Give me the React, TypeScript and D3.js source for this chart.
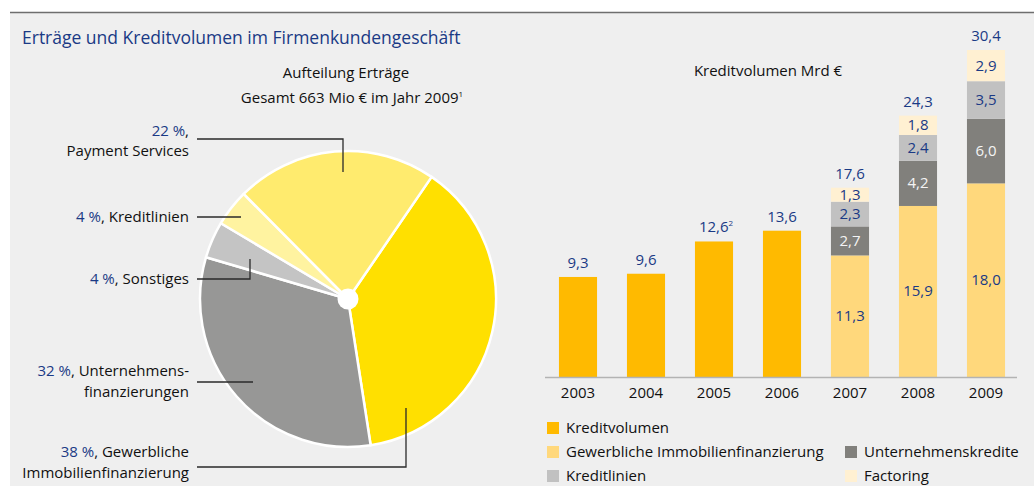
import React from "react";
import * as d3 from "d3";

const pieLabels = ["Gewerbliche Immobilienfinanzierung", "Unternehmensfinanzierungen", "Sonstiges", "Kreditlinien", "Payment Services"];
const pieValues = [38, 32, 4, 4, 22];
const pieColors = ["#ffe000", "#979796", "#c4c4c4", "#fff3a0", "#ffeb6e"];

const years = ["2003", "2004", "2005", "2006", "2007", "2008", "2009"];
const kreditvolumen = [9.3, 9.6, 12.6, 13.6, 0, 0, 0];
const gewerbliche = [0, 0, 0, 0, 11.3, 15.9, 18.0];
const unternehmenskredite = [0, 0, 0, 0, 2.7, 4.2, 6.0];
const kreditlinien = [0, 0, 0, 0, 2.3, 2.4, 3.5];
const factoring = [0, 0, 0, 0, 1.3, 1.8, 2.9];
const totals = [9.3, 9.6, 12.6, 13.6, 17.6, 24.3, 30.4];
const totalNotes = ["", "", "2", "", "", "", ""];

const seriesKeys = ["kreditvolumen", "gewerbliche", "unternehmenskredite", "kreditlinien", "factoring"];
const seriesNames = ["Kreditvolumen", "Gewerbliche Immobilienfinanzierung", "Unternehmenskredite", "Kreditlinien", "Factoring"];
const seriesColors = ["#ffba00", "#ffd87c", "#81807c", "#c1c1c1", "#fff0d2"];
const seriesLabelColors = ["#1a3a85", "#1a3a85", "#f4f4f4", "#1a3a85", "#1a3a85"];

const BLUE = "#1a3a85";
const FONT = "'Open Sans', 'Noto Sans', sans-serif";

const fmt = (v: number) => v.toFixed(1).replace(".", ",");

export default function App() {
  const W = 1034, H = 486;
  const cx = 348, cy = 299, R = 148;
  const start = (34.4 * Math.PI) / 180;
  const pie = d3.pie<number>().sort(null).startAngle(start).endAngle(start + 2 * Math.PI);
  const arcs = pie(pieValues);
  const arcGen = d3.arc<d3.PieArcDatum<number>>().innerRadius(0).outerRadius(R);

  const x = d3.scaleBand<string>().domain(years).range([544, 1020]).paddingInner(0.44).paddingOuter(0.22);
  const y = d3.scaleLinear().domain([0, 30.4]).range([377, 50]);

  const rows = years.map((yr, i) => ({
    year: yr,
    kreditvolumen: kreditvolumen[i],
    gewerbliche: gewerbliche[i],
    unternehmenskredite: unternehmenskredite[i],
    kreditlinien: kreditlinien[i],
    factoring: factoring[i],
  }));
  const stack = d3.stack<any>().keys(seriesKeys)(rows);

  const fs = 15;
  const labelX = 189;

  return (
    <svg width={W} height={H} style={{ display: "block", position: "absolute", left: 0, top: 0 }} fontFamily={FONT}>
      <rect x={10} y={12} width={W - 10} height={H - 12} fill="#efefef" />
      <line x1={10} x2={W} y1={12.5} y2={12.5} stroke="#6e6e6e" strokeWidth={1.5} />
      <text x={22} y={44} fontSize={17.5} fill={BLUE}>Erträge und Kreditvolumen im Firmenkundengeschäft</text>

      <text x={346} y={78} fontSize={fs} fill="#111" textAnchor="middle">Aufteilung Erträge</text>
      <text x={352} y={103} fontSize={fs} fill="#111" textAnchor="middle">
        Gesamt 663 Mio € im Jahr 2009<tspan fontSize={8} dy={-6}>1</tspan>
      </text>

      <g transform={`translate(${cx},${cy})`}>
        {arcs.map((a, i) => (
          <path key={i} d={arcGen(a) || ""} fill={pieColors[i]} stroke="#ffffff" strokeWidth={2.5} strokeLinejoin="round" />
        ))}
        <circle r={10.5} fill="#ffffff" />
      </g>

      <g fill="none" stroke="#2a2a2a" strokeWidth={1.3}>
        <polyline points="197,139 343,139 343,172" />
        <polyline points="197,217 241,217" />
        <polyline points="197,279 250,279 250,259" />
        <polyline points="197,382 253,382" />
        <polyline points="197,467 406,467 406,408" />
      </g>

      <g fontSize={fs} textAnchor="end" fill="#111">
        <text x={labelX} y={136}><tspan fill={BLUE}>{pieValues[4]} %</tspan>,</text>
        <text x={labelX} y={156}>Payment Services</text>
        <text x={labelX} y={222}><tspan fill={BLUE}>{pieValues[3]} %</tspan>, Kreditlinien</text>
        <text x={labelX} y={284}><tspan fill={BLUE}>{pieValues[2]} %</tspan>, Sonstiges</text>
        <text x={labelX} y={376}><tspan fill={BLUE}>{pieValues[1]} %</tspan>, Unternehmens-</text>
        <text x={labelX} y={397}>finanzierungen</text>
        <text x={labelX} y={457}><tspan fill={BLUE}>{pieValues[0]} %</tspan>, Gewerbliche</text>
        <text x={labelX} y={478}>Immobilienfinanzierung</text>
      </g>

      <text x={768} y={76} fontSize={fs} fill="#111" textAnchor="middle">Kreditvolumen Mrd €</text>

      {stack.map((s, si) => (
        <g key={si}>
          {s.map((d, i) => {
            const h = y(d[0]) - y(d[1]);
            if (h <= 0) return null;
            return (
              <rect key={i} x={x(years[i])} y={y(d[1])} width={x.bandwidth()} height={h} fill={seriesColors[si]} />
            );
          })}
        </g>
      ))}
      {stack.map((s, si) =>
        si === 0 ? null : (
          <g key={"l" + si} fontSize={fs} textAnchor="middle" fill={seriesLabelColors[si]}>
            {s.map((d, i) => {
              const v = d[1] - d[0];
              if (v <= 0) return null;
              const ym = (y(d[0]) + y(d[1])) / 2;
              return (
                <text key={i} x={(x(years[i]) || 0) + x.bandwidth() / 2} y={ym + 5}>{fmt(v)}</text>
              );
            })}
          </g>
        )
      )}
      <g fontSize={fs} textAnchor="middle" fill={BLUE}>
        {totals.map((t, i) => (
          <text key={i} x={(x(years[i]) || 0) + x.bandwidth() / 2 + (totalNotes[i] ? 2 : 0)} y={y(t) - 9}>
            {fmt(t)}
            {totalNotes[i] ? <tspan fontSize={8} dy={-6}>{totalNotes[i]}</tspan> : null}
          </text>
        ))}
      </g>

      <line x1={545} x2={1017} y1={y(0) + 0.5} y2={y(0) + 0.5} stroke="#b3b3b3" strokeWidth={1.5} />
      <g fontSize={fs} textAnchor="middle" fill="#111">
        {years.map((yr) => (
          <text key={yr} x={(x(yr) || 0) + x.bandwidth() / 2} y={398}>{yr}</text>
        ))}
      </g>

      <g fontSize={fs} fill="#111">
        {[
          { i: 0, lx: 547, ly: 433 },
          { i: 1, lx: 547, ly: 457 },
          { i: 3, lx: 547, ly: 481 },
          { i: 2, lx: 845, ly: 457 },
          { i: 4, lx: 845, ly: 481 },
        ].map(({ i, lx, ly }) => (
          <g key={i}>
            <rect x={lx} y={ly - 11} width={12} height={12} fill={seriesColors[i]} />
            <text x={lx + 19} y={ly}>{seriesNames[i]}</text>
          </g>
        ))}
      </g>
    </svg>
  );
}
